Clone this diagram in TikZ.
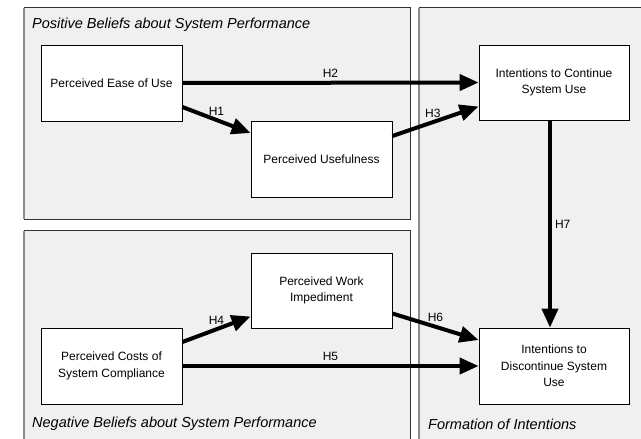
\documentclass[tikz,border=0pt]{standalone}
\usepackage{fontspec}
\setmainfont{Liberation Sans}
\usetikzlibrary{arrows.meta}

\begin{document}
\begin{tikzpicture}[x=1pt, y=-1pt,
		grp/.style={draw=black!80, line width=0.9pt, fill=black!6},
		grpedge/.style={draw=black!45, line width=1.4pt},
		grplabel/.style={anchor=west, inner sep=0pt, font=\fontsize{14.5}{17}\selectfont\itshape},
		box/.style={draw=black, line width=0.8pt, fill=white, align=center, inner sep=0pt, font=\fontsize{12}{16.5}\selectfont},
		hyp/.style={line width=4pt, -{Triangle[length=19pt, width=16pt]}},
		hlabel/.style={inner sep=1pt, font=\fontsize{12}{14}\selectfont}]
		%%%%% START %%%%%
		
		\useasboundingbox (0, 0) rectangle (641, 439);
		\clip (0, 0) rectangle (641, 439);
		
		\draw[grp] (24, 7) rectangle (410, 219);
		\draw[grpedge] (24, 7.5) -- (24, 218.5);
		\draw[grp] (24, 230) rectangle (410, 460);
		\draw[grpedge] (24, 230.5) -- (24, 460);
		\draw[grp] (419, 7) rectangle (660, 460);
		\draw[grpedge] (419, 7.5) -- (419, 460);
		
		\node[grplabel] (poslabel) at (32, 25) {Positive Beliefs about System Performance};
		\node[grplabel] (neglabel) at (32, 424) {Negative Beliefs about System Performance};
		\node[grplabel] (intlabel) at (428, 424) {Formation of Intentions};
		
		\node[box, minimum width=141pt, minimum height=76pt] (ease) at (111.5, 83) {Perceived Ease of Use};
		\node[box, minimum width=141pt, minimum height=76pt] (useful) at (321.5, 159) {Perceived Usefulness};
		\node[box, minimum width=150pt, minimum height=75pt] (cont) at (554, 82.5) {Intentions to Continue\\System Use};
		
		\node[box, minimum width=141pt, minimum height=75pt] (work) at (321.5, 290.5) {Perceived Work\\Impediment};
		\node[box, minimum width=141pt, minimum height=76pt] (costs) at (111.5, 366) {Perceived Costs of\\System Compliance};
		\node[box, minimum width=150pt, minimum height=76pt] (disc) at (554, 366) {Intentions to\\Discontinue System\\Use};
		
		\draw[hyp] ([yshift=-24pt]ease.east) -- ([yshift=26pt]useful.west) node[hlabel, pos=0.5, above=2pt] (h1) {H1};
		\draw[hyp] (ease.east) -- (cont.west) node[hlabel, pos=0.5, above=2pt] (h2) {H2};
		\draw[hyp] ([yshift=23pt]useful.east) -- ([yshift=-24pt]cont.west) node[hlabel, pos=0.47, above=2pt] (h3) {H3};
		
		\draw[hyp] ([yshift=24pt]costs.east) -- ([yshift=-26pt]work.west) node[hlabel, pos=0.5, above=2pt] (h4) {H4};
		\draw[hyp] (costs.east) -- (disc.west) node[hlabel, pos=0.5, above=2pt] (h5) {H5};
		\draw[hyp] ([yshift=-23pt]work.east) -- ([yshift=26pt]disc.west) node[hlabel, pos=0.5, above=2pt] (h6) {H6};
		
		\draw[hyp] ([xshift=-4pt]cont.south) -- ([xshift=-4pt]disc.north) node[hlabel, pos=0.5, right=2pt] (h7) {H7};
		
		%%%%% END %%%%%
	\end{tikzpicture}
\end{document}
